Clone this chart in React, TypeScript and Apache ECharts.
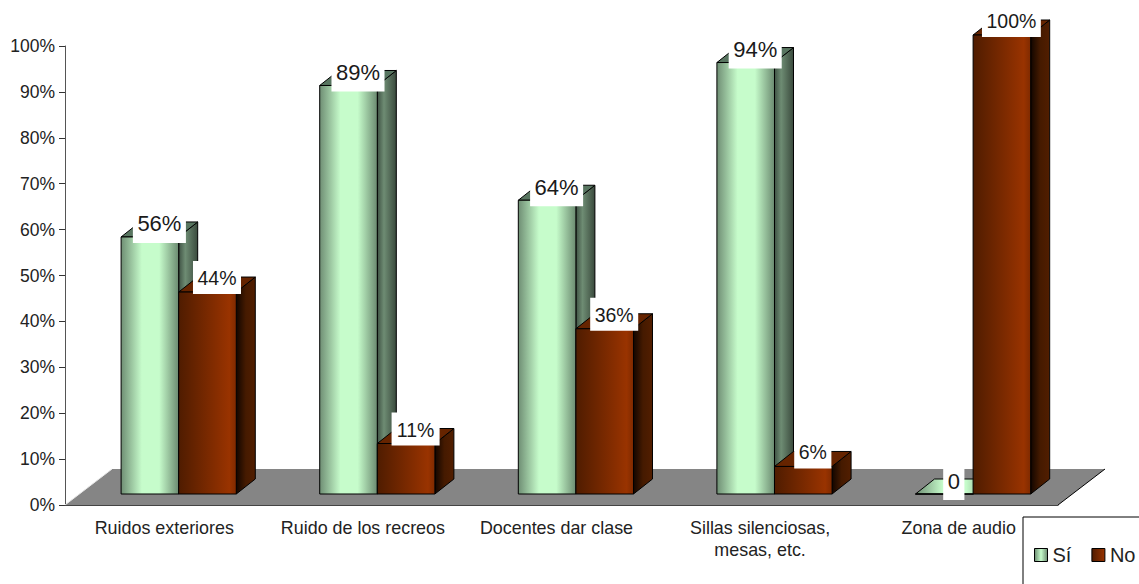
import React, { useEffect, useRef } from "react";
import * as echarts from "echarts";

const categories = [
  "Ruidos exteriores",
  "Ruido de los recreos",
  "Docentes dar clase",
  "Sillas silenciosas,\nmesas, etc.",
  "Zona de audio",
];
const siValues = [56, 89, 64, 94, 0];
const noValues = [44, 11, 36, 6, 100];
const yTicks = { min: 0, max: 100, interval: 10 };

const FONT = "'Liberation Sans', Arial, sans-serif";
const DX = 19;
const DY = 15;
const LIFT = 11;

const h = (stops: [number, string][]) => ({
  type: "linear",
  x: 0,
  y: 0,
  x2: 1,
  y2: 0,
  colorStops: stops.map(([offset, color]) => ({ offset, color })),
});

const SI = {
  front: h([[0, "#6f8e74"], [0.36, "#c6fccb"], [0.66, "#c6fccb"], [1, "#6b8a70"]]),
  side: h([[0, "#3f5244"], [0.35, "#6e8c73"], [1, "#3a4a3d"]]),
  top: "#587560",
  legend: h([[0, "#6b8a70"], [0.5, "#c6fccb"], [1, "#6b8a70"]]),
};
const NO = {
  front: h([[0, "#4f1c00"], [0.88, "#993300"], [1, "#7f2a00"]]),
  side: h([[0, "#120600"], [0.5, "#451a00"], [1, "#521e00"]]),
  top: "#662400",
  legend: h([[0, "#4f1c00"], [1, "#993300"]]),
};

function bar3d(seriesIndex: number, palette: typeof SI, size: number) {
  return (_params: any, api: any) => {
    const i = api.value(0);
    const v = api.value(1);
    const band = api.size([1, 0])[0];
    const w = band * 0.29;
    const center = api.coord([i, 0])[0];
    const x0 = center + band * 0.0725 + (seriesIndex - 1) * w;
    const x1 = x0 + w;
    const yb = api.coord([i, 0])[1] - LIFT;
    const yt = api.coord([i, v])[1] - LIFT;
    const stroke = { stroke: "#000", lineWidth: 1 };
    const text = v === 0 ? "0" : `${v}%`;
    const textWidth = text.length === 1 ? size * 0.556 : (text.length - 1) * 0.556 * size + 0.889 * size;
    const cx = (x0 + x1) / 2 + DX / 2;
    const backTop = yt - DY;
    const cy = backTop + (seriesIndex === 0 ? 2 : 1);
    const up = seriesIndex === 0 ? 14 : 17;
    const down = seriesIndex === 0 ? 19 : 16;
    return {
      type: "group",
      children: [
        {
          type: "polygon",
          shape: { points: [[x1, yt], [x1 + DX, yt - DY], [x1 + DX, yb - DY], [x1, yb]] },
          style: { fill: palette.side, ...stroke },
        },
        {
          type: "polygon",
          shape: { points: [[x0, yt], [x0 + DX, yt - DY], [x1 + DX, yt - DY], [x1, yt]] },
          style: { fill: v === 0 ? palette.front : palette.top, ...stroke },
        },
        {
          type: "rect",
          shape: { x: x0, y: yt, width: w, height: yb - yt },
          style: { fill: palette.front, ...stroke },
        },
        {
          type: "rect",
          shape: { x: cx - textWidth / 2 - 4.5, y: cy - up, width: textWidth + 9, height: up + down },
          style: { fill: "#ffffff" },
        },
        {
          type: "text",
          style: {
            x: cx,
            y: cy,
            text,
            fill: "#1a1a1a",
            font: `${size}px ${FONT}`,
            align: "center",
            verticalAlign: "middle",
          },
        },
      ],
    };
  };
}

function floor(params: any, _api: any) {
  const { x, y, width, height } = params.coordSys;
  const b = y + height;
  const l = x;
  const r = x + width;
  const t = b - 36;
  return {
    type: "group",
    children: [
      {
        type: "polygon",
        shape: { points: [[l, b], [l + 47, t], [r + 47, t], [r, b]] },
        style: { fill: "#858585" },
      },
      { type: "line", shape: { x1: l, y1: b, x2: l + 47, y2: t }, style: { stroke: "#e8e8e8", lineWidth: 1 } },
      { type: "line", shape: { x1: r, y1: b, x2: r + 47, y2: t }, style: { stroke: "#000", lineWidth: 1 } },
    ],
  };
}

export default function App() {
  const ref = useRef<HTMLDivElement>(null);
  useEffect(() => {
    const chart = echarts.init(ref.current!, undefined, { renderer: "svg" });
    chart.setOption({
      animation: false,
      backgroundColor: "#ffffff",
      textStyle: { fontFamily: FONT },
      grid: { left: 65, right: 81, top: 46, bottom: 79, containLabel: false },
      xAxis: {
        type: "category",
        data: categories.map((value, i) =>
          i === 2 ? { value, textStyle: { padding: [0, 10, 0, 0], width: 170 } } : value
        ),
        z: 3,
        axisLine: { lineStyle: { color: "#444", width: 1 } },
        axisTick: { length: 7, lineStyle: { color: "#777" } },
        axisLabel: { color: "#222", fontSize: 17.9, fontFamily: FONT, margin: 12, lineHeight: 22, interval: 0 },
      },
      yAxis: {
        type: "value",
        ...yTicks,
        axisLine: { show: true, lineStyle: { color: "#555", width: 1 } },
        axisTick: { show: true, length: 6, lineStyle: { color: "#333" } },
        splitLine: { show: false },
        axisLabel: { color: "#222", fontSize: 17.5, fontFamily: FONT, margin: 10, padding: [2, 0, 0, 0], formatter: "{value}%" },
      },
      legend: {
        left: 1023,
        top: 517,
        width: 300,
        orient: "horizontal",
        selectedMode: false,
        padding: [28, 40, 40, 11],
        borderColor: "#000",
        borderWidth: 1,
        itemWidth: 13,
        itemHeight: 13,
        itemGap: 20,
        icon: "rect",
        textStyle: { color: "#222", fontSize: 20, fontFamily: FONT },
        data: [
          { name: "Sí", itemStyle: { color: SI.legend, borderColor: "#000", borderWidth: 1 } },
          { name: "No", itemStyle: { color: NO.legend, borderColor: "#000", borderWidth: 1 } },
        ],
      },
      series: [
        { type: "custom", name: "floor", silent: true, z: 1, renderItem: floor, data: [[0, 0]], encode: { x: 0, y: 1 } },
        {
          type: "custom",
          name: "Sí",
          silent: true,
          z: 2,
          renderItem: bar3d(0, SI, 22),
          data: siValues.map((v, i) => [i, v]),
          encode: { x: 0, y: 1 },
        },
        {
          type: "custom",
          name: "No",
          silent: true,
          z: 3,
          renderItem: bar3d(1, NO, 19.5),
          data: noValues.map((v, i) => [i, v]),
          encode: { x: 0, y: 1 },
        },
      ],
    });
    return () => chart.dispose();
  }, []);
  return <div ref={ref} style={{ position: "absolute", left: 0, top: 0, width: 1139, height: 584 }} />;
}
